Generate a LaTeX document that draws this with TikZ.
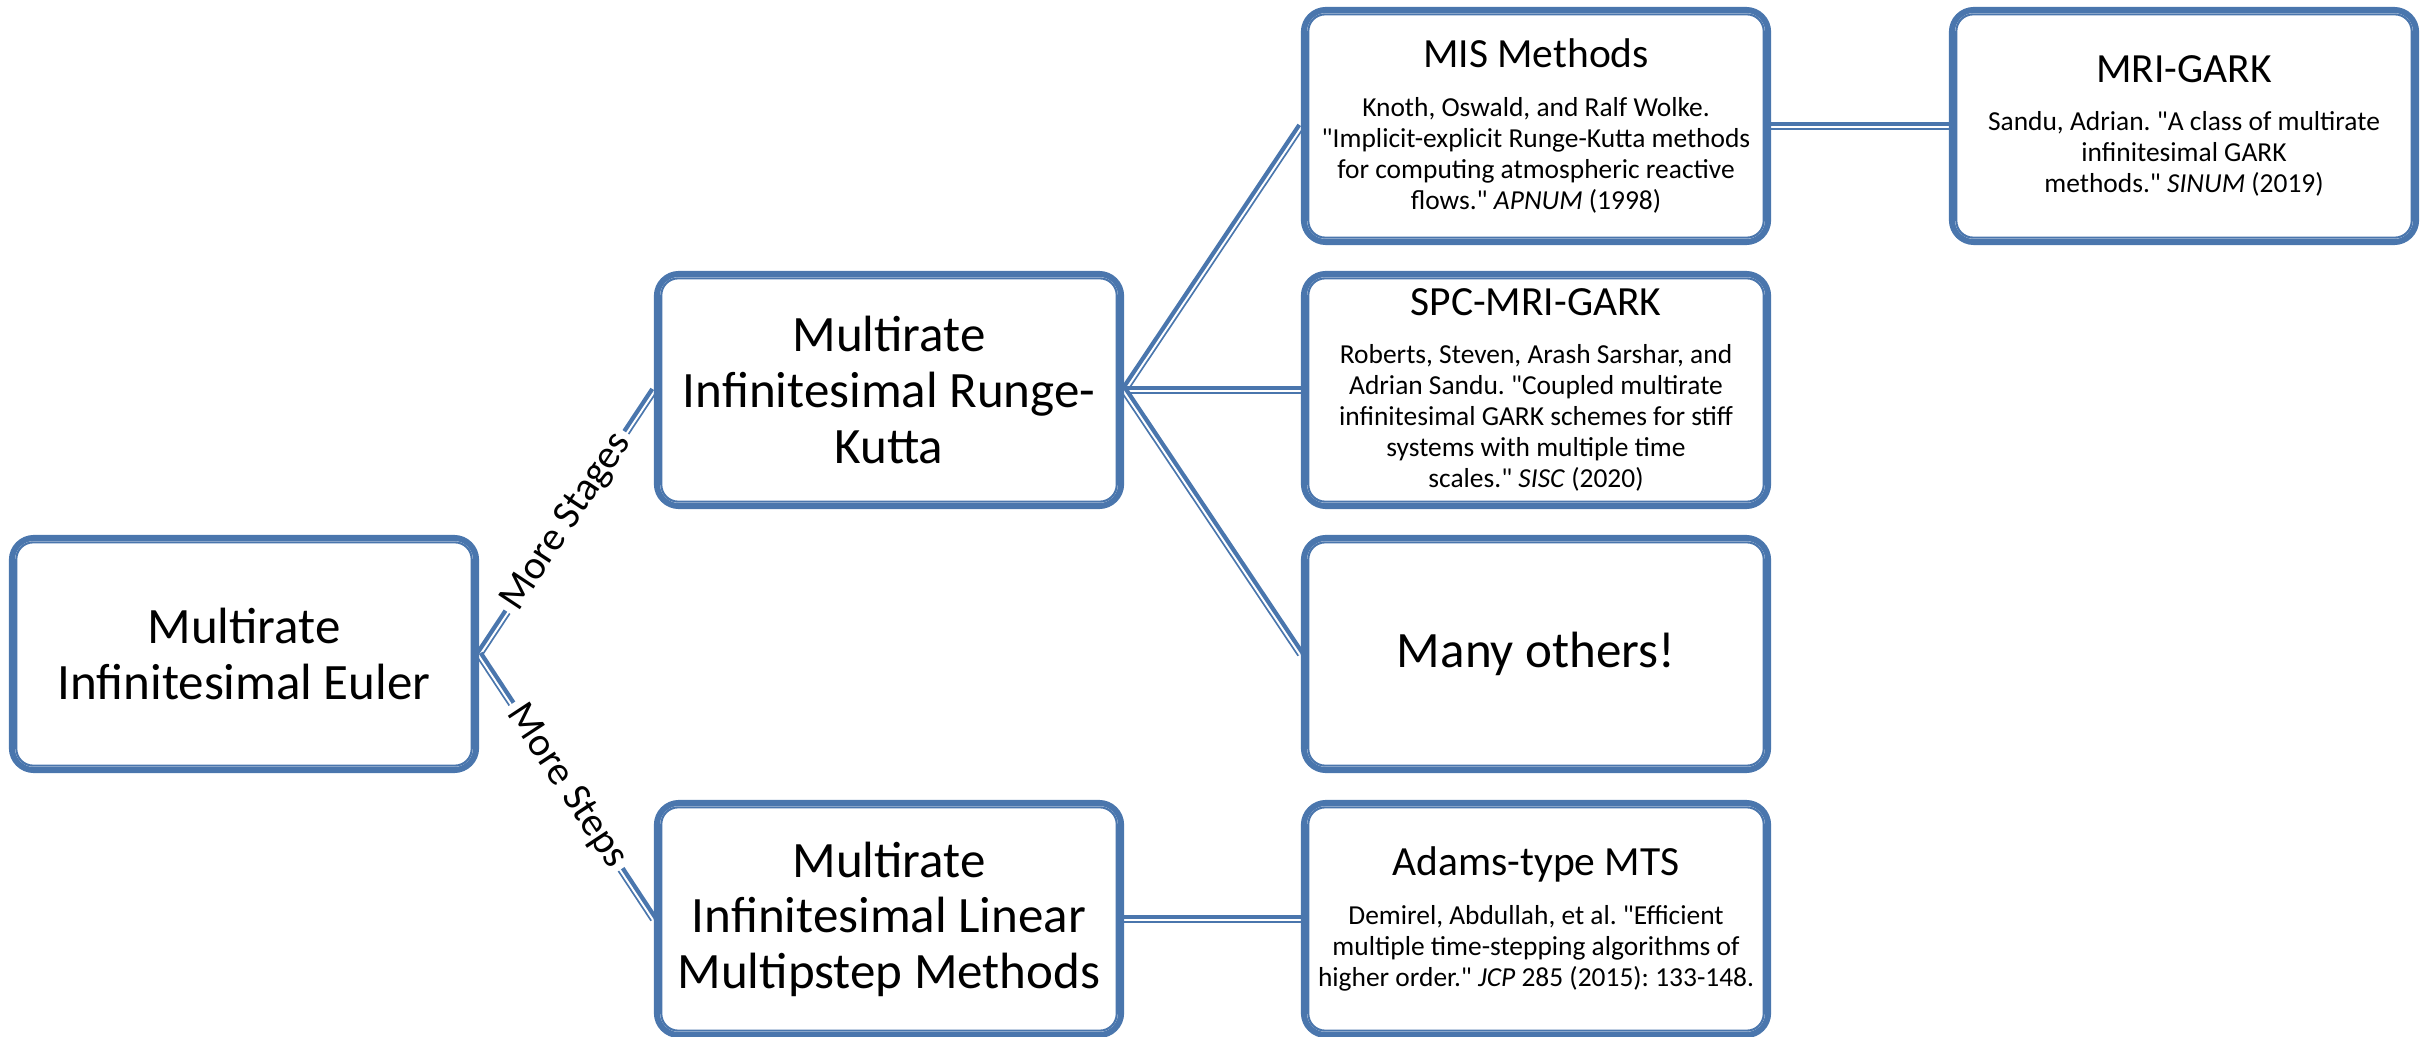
\documentclass[tikz,border=0pt]{standalone}
\usepackage{fontspec}
\setmainfont{Carlito}[Ligatures=TeXOff]
\usetikzlibrary{backgrounds}
\definecolor{bblue}{RGB}{74,118,173}
\frenchspacing
\newcommand{\cbody}[2]{{\fontsize{11.8}{13}\selectfont #1\par}\vspace{5pt}{\fontsize{7.8}{8.8}\selectfont #2\par}}
\begin{document}
\begin{tikzpicture}[x=0.01cm,y=-0.01cm,
 box/.style={draw=bblue, line width=1.7pt, rounded corners=0.22cm, minimum width=4.64cm, minimum height=2.32cm, align=flush center, inner sep=0pt, fill=white},
 cbox/.style={box, text width=4.64cm},
 inbox/.style={draw=bblue, line width=0.6pt, rounded corners=0.17cm},
 conn/.style={draw=bblue, line width=2.3pt},
 wline/.style={draw=white, line width=0.55pt, transform canvas={shift={#1}}},
 wline/.default={(0pt,-0.35pt)},
 lab/.style={fill=white, inner sep=1.5pt, sloped, font=\fontsize{11.5}{13}\selectfont},
 big/.style={font=\fontsize{14.5}{15.8}\selectfont},
]
\useasboundingbox (0,0) rectangle (2430,1037);

\node[box, big] (mie) at (244,654) {Multirate\\Infinitesimal Euler};
\node[box, big] (mirk) at (889,390) {Multirate\\Infinitesimal Runge-\\Kutta};
\node[box, big] (milm) at (889,919) {Multirate\\Infinitesimal Linear\\Multipstep Methods};
\node[cbox] (mis) at (1536,126) {\cbody{MIS Methods}{Knoth, Oswald, and Ralf Wolke.\\ "Implicit-explicit Runge-Kutta methods\\ for computing atmospheric reactive\\ flows." \textit{APNUM} (1998)}};
\node[cbox] (spc) at (1536,390) {\cbody{SPC-MRI-GARK}{Roberts, Steven, Arash Sarshar, and\\ Adrian Sandu. "Coupled multirate\\ infinitesimal GARK schemes for stiff\\ systems with multiple time\\ scales." \textit{SISC} (2020)}};
\node[box, big] (many) at (1536,654) {Many others!};
\node[cbox] (adams) at (1536,919) {\cbody{Adams-type MTS}{Demirel, Abdullah, et al. "Efficient\\ multiple time-stepping algorithms of\\ higher order." \textit{JCP} 285 (2015): 133-148.}};
\node[cbox] (mrig) at (2184,126) {\cbody{MRI-GARK}{Sandu, Adrian. "A class of multirate\\ infinitesimal GARK\\ methods." \textit{SINUM} (2019)}};

\foreach \n in {mie,mirk,milm,mis,spc,many,adams,mrig}
  \draw[inbox] ([xshift=2.1pt,yshift=-2.1pt]\n.north west) rectangle ([xshift=-2.1pt,yshift=2.1pt]\n.south east);

\begin{pgfonlayer}{background}
\path[conn] (mie.east) -- (mirk.west);
\path[wline={(0.3pt,-0.2pt)}] (mie.east) -- (mirk.west);
\path[conn] (mie.east) -- (milm.west);
\path[wline={(-0.3pt,-0.2pt)}] (mie.east) -- (milm.west);
\path[conn] (mirk.east) -- (mis.west);
\path[wline={(0.3pt,-0.2pt)}] (mirk.east) -- (mis.west);
\path[conn] (mirk.east) -- (spc.west);
\path[wline] (mirk.east) -- (spc.west);
\path[conn] (mirk.east) -- (many.west);
\path[wline={(-0.3pt,-0.2pt)}] (mirk.east) -- (many.west);
\path[conn] (mis.east) -- (mrig.west);
\path[wline] (mis.east) -- (mrig.west);
\path[conn] (milm.east) -- (adams.west);
\path[wline] (milm.east) -- (adams.west);
\path (mie.east) -- node[lab,pos=0.5]{More Stages} (mirk.west);
\path (mie.east) -- node[lab,pos=0.5]{More Steps} (milm.west);
\end{pgfonlayer}
\end{tikzpicture}
\end{document}
